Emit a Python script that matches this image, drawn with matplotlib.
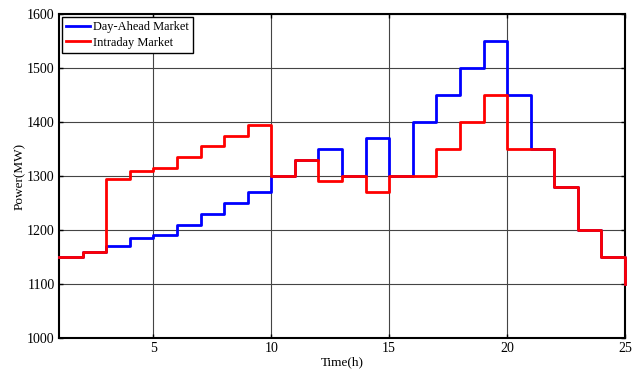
import matplotlib
matplotlib.use("Agg")
import matplotlib.pyplot as plt

hours = list(range(1, 26))
day_ahead = [1150, 1160, 1170, 1185, 1190, 1210, 1230, 1250, 1270, 1300,
             1330, 1350, 1300, 1370, 1300, 1400, 1450, 1500, 1550, 1450,
             1350, 1280, 1200, 1150, 1100]
intraday = [1150, 1160, 1295, 1310, 1315, 1335, 1355, 1375, 1395, 1300,
            1330, 1290, 1300, 1270, 1300, 1300, 1350, 1400, 1450, 1350,
            1350, 1280, 1200, 1150, 1100]
xticks = [5, 10, 15, 20, 25]
yticks = [1000, 1100, 1200, 1300, 1400, 1500, 1600]

plt.rcParams['font.family'] = ['Liberation Serif', 'DejaVu Serif']
fig = plt.figure(figsize=(6.37, 3.69), dpi=100)
ax = fig.add_axes([59/637, 1-338/369, (625-59)/637, (338-14)/369])

ax.step(hours, day_ahead, where='post', color='#0000ff', lw=2.0,
        label='Day-Ahead Market', zorder=5, clip_on=False)
ax.step(hours, intraday, where='post', color='#ff0000', lw=2.0,
        label='Intraday Market', zorder=6, clip_on=False)

ax.set_xlim(1, 25)
ax.set_ylim(1000, 1600)
ax.set_xticks(xticks)
ax.set_yticks(yticks)
ax.grid(True, color='#444444', lw=0.8)
ax.set_axisbelow(True)
ax.tick_params(direction='in', labelsize=10, length=3, width=1, top=True, right=True,
               labeltop=False, labelright=False, pad=3)
for s in ax.spines.values():
    s.set_linewidth(1.5)
    s.set_zorder(4)
ax.set_xlabel('Time(h)', fontsize=9.5, labelpad=0)
ax.set_ylabel('Power(MW)', fontsize=9.5, labelpad=2)
ax.xaxis.set_label_coords(0.5, -0.055)
ax.yaxis.set_label_coords(-0.058, 0.5)

leg = ax.legend(loc='upper left', fontsize=8.9, fancybox=False, framealpha=1,
                edgecolor='black', borderaxespad=0.25, handlelength=1.9,
                borderpad=0.35, labelspacing=0.25, handletextpad=0.25)
leg.get_frame().set_linewidth(1.0)
leg.set_zorder(10)

fig.savefig('out.png', dpi=100)
